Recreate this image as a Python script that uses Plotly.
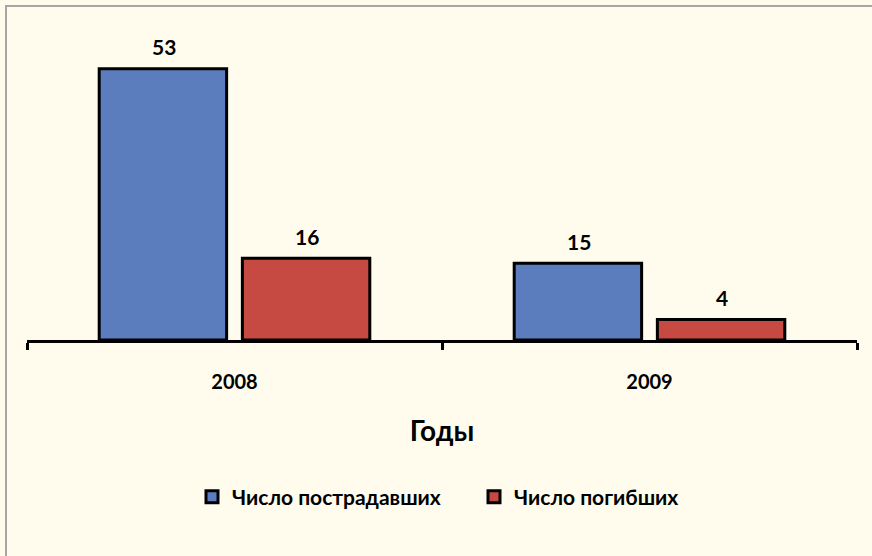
import plotly.graph_objects as go

years = ["2008", "2009"]
injured = [53, 15]
killed = [16, 4]
series_names = ["Число пострадавших", "Число погибших"]
x_title = "Годы"

BLUE = "#5B7DBD"
RED = "#C64A41"
BG = "#FFFCEE"
FONT = "Lato"

fig = go.Figure()
fig.add_trace(go.Bar(x=years, y=injured, name=series_names[0],
                     marker=dict(color=BLUE, line=dict(color="black", width=3))))
fig.add_trace(go.Bar(x=years, y=killed, name=series_names[1],
                     marker=dict(color=RED, line=dict(color="black", width=3))))

# value labels above bars (x given as category index)
for vals, shift in ((injured, -71), (killed, 72)):
    for i, v in enumerate(vals):
        fig.add_annotation(x=i, y=v, text=str(v), showarrow=False,
                           xshift=shift, yshift=22,
                           font=dict(family=FONT, size=21, color="black", weight="bold"))

fig.add_shape(type="rect", xref="paper", yref="paper",
              x0=(6 - 27) / 830, x1=(880 - 27) / 830,
              y0=(340 - 570) / 307, y1=(340 - 6) / 307,
              line=dict(color="#A6A6A6", width=2), fillcolor="rgba(0,0,0,0)",
              layer="below")

fig.update_layout(
    width=872, height=556,
    margin=dict(l=27, r=15, t=33, b=216),
    paper_bgcolor=BG, plot_bgcolor=BG,
    barmode="group", bargap=0.31, bargroupgap=0.11,
    showlegend=True,
    legend=dict(orientation="h", x=(192 - 27) / 830, xanchor="left", y=(340 - 497) / 307,
                yanchor="middle", font=dict(family=FONT, size=21, color="black", weight="bold"),
                entrywidth=237, entrywidthmode="pixels",
                traceorder="normal", bgcolor="rgba(0,0,0,0)"),
    xaxis=dict(type="category", range=[-0.5, 1.5], showline=True, linecolor="black", linewidth=3,
               ticks="outside", tickson="boundaries", ticklen=7, tickwidth=3, tickcolor="black",
               tickfont=dict(family=FONT, size=20, color="black", weight="bold"),
               ticklabelstandoff=22,
               title=dict(text=x_title, standoff=30,
                          font=dict(family=FONT, size=28, color="black", weight="bold")),
               showgrid=False, zeroline=False),
    yaxis=dict(range=[0, 60], visible=False, showgrid=False, zeroline=False),
)

fig.write_html("out.html", config={"displayModeBar": False},
               post_script="document.body.style.margin='0';document.body.style.overflow='hidden';")
